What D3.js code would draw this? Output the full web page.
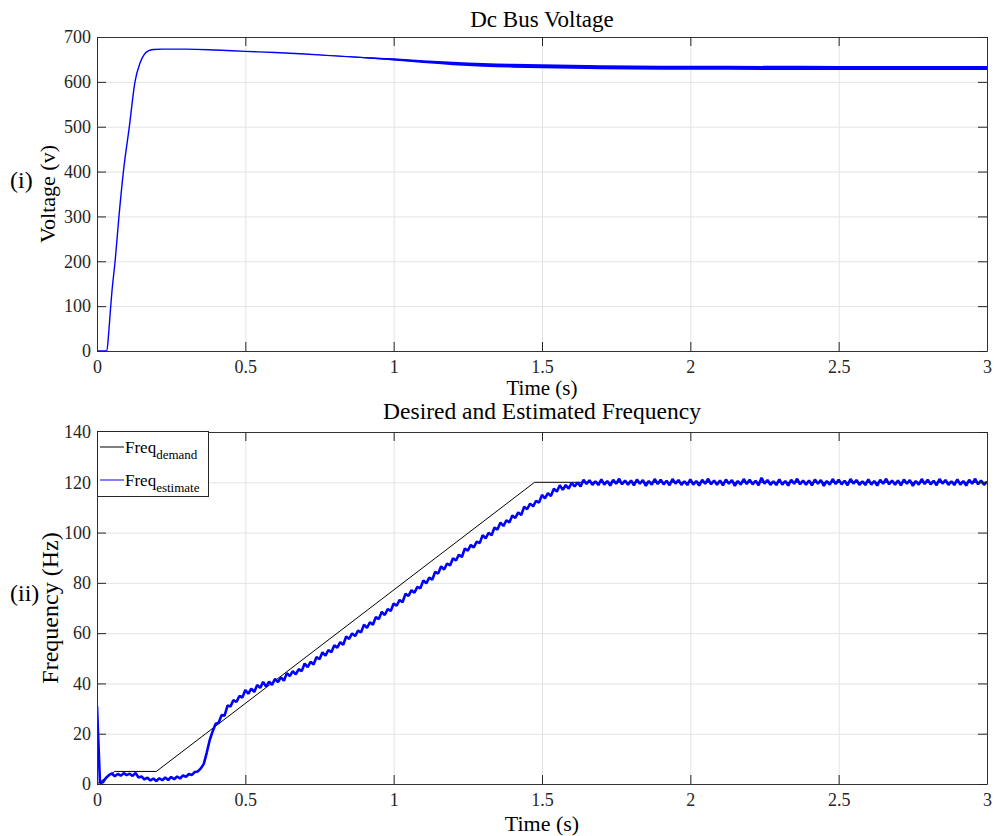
<!DOCTYPE html>
<html>
<head>
<meta charset="utf-8">
<script src="https://cdn.jsdelivr.net/npm/d3@7"></script>
<style>
  body { margin: 0; background: #fff; }
  svg text { font-family: "Liberation Serif", "Times New Roman", serif; }
</style>
</head>
<body>
<svg width="994" height="836"></svg>
<script>
// --- data ---
const timeTicks = [0, 0.5, 1, 1.5, 2, 2.5, 3];
const voltTicks = [0, 100, 200, 300, 400, 500, 600, 700];
const freqTicks = [0, 20, 40, 60, 80, 100, 120, 140];

// dc bus voltage (s, V) and the half-width of its ripple band (V)
const dcTime = [0, 0.033, 0.04, 0.046, 0.05, 0.061, 0.074, 0.089, 0.109, 0.128, 0.145, 0.16, 0.173, 0.19,
                0.22, 0.3, 0.4, 0.5, 0.6, 0.7, 0.8, 0.9, 1.0, 1.1, 1.2, 1.3, 1.4, 1.5, 1.6, 1.8, 2.0, 2.5, 3.0];
const dcVolt = [0, 0, 45, 98, 130, 200, 300, 400, 500, 600, 642, 662, 669, 672,
                673, 673, 671, 668, 665.5, 662, 658, 654, 650, 645, 641, 638, 636, 635, 633.5, 632, 631.5, 631, 631];
const dcRipple = [0, 0, 0, 0, 0, 0, 0, 0, 0, 0, 0, 0, 0, 0,
                  0, 0, 0, 0, 0, 0, 0.5, 1.5, 2.5, 3.2, 3.8, 4.2, 4.4, 4.5, 4.5, 4.5, 4.5, 4.5, 4.5];

// frequency demand (s, Hz)
const demandTime = [0, 0.06, 0.2, 1.475, 3];
const demandFreq = [0, 5, 5, 120, 120];

// frequency estimate, one sample every 0.01 s from 0 to 3 s
const estStep = 0.01;
const estFreq = [
  31, 0.4, 0.7, 2.4, 3.5, 4.2, 3.1, 4.0, 3.3, 4.3,
  3.5, 4.1, 3.2, 4.4, 2.6, 3.0, 1.8, 2.5, 1.4, 2.2,
  1.2, 2.3, 1.5, 2.6, 1.6, 2.8, 1.9, 3.0, 2.2, 3.4,
  2.9, 4.0, 3.6, 4.8, 5.0, 6.2, 8.0, 12.5, 17.5, 21.0,
  24.0, 24.4, 27.4, 27.2, 31.2, 30.8, 33.4, 32.6, 35.0, 34.4,
  37.4, 35.9, 37.9, 36.6, 39.4, 38.2, 40.6, 38.8, 40.7, 39.4,
  41.8, 40.5, 42.4, 41.1, 44.1, 42.9, 44.9, 43.6, 45.7, 44.9,
  47.9, 46.5, 48.6, 47.5, 50.5, 49.6, 52.4, 51.0, 53.3, 52.4,
  55.2, 54.2, 56.4, 55.4, 58.7, 57.7, 59.9, 58.8, 61.0, 60.3,
  63.4, 62.1, 64.3, 63.3, 66.4, 65.6, 68.5, 67.2, 69.6, 68.8,
  71.8, 70.9, 73.2, 72.3, 75.7, 74.8, 77.1, 76.1, 78.4, 77.8,
  81.0, 79.8, 82.1, 81.2, 84.4, 83.7, 86.6, 85.3, 87.7, 86.9,
  89.8, 88.9, 91.2, 90.3, 93.7, 92.8, 95.1, 94.1, 96.4, 95.8,
  99.0, 97.7, 99.9, 98.9, 102.0, 101.2, 104.0, 102.6, 104.9, 104.0,
  106.8, 105.8, 108.0, 107.0, 110.3, 109.3, 111.5, 110.4, 112.6, 111.9,
  115.0, 113.6, 115.7, 114.5, 117.4, 116.3, 118.8, 117.0, 118.9, 117.5,
  119.8, 118.3, 119.9, 118.3, 121.0, 119.3, 120.8, 119.0, 120.4, 118.9,
  121.2, 119.1, 120.5, 118.7, 121.0, 119.4, 121.4, 119.2, 120.7, 119.0,
  120.7, 118.8, 121.1, 119.4, 120.9, 118.6, 120.5, 119.1, 121.3, 119.3,
  121.0, 119.2, 120.6, 118.8, 121.3, 119.5, 120.9, 119.0, 120.4, 118.9,
  121.2, 119.1, 120.5, 118.7, 121.0, 119.4, 121.4, 119.2, 120.7, 119.0,
  120.7, 118.8, 121.1, 119.4, 120.9, 118.6, 120.5, 119.1, 121.3, 119.3,
  121.0, 119.2, 120.6, 118.8, 121.8, 119.5, 120.9, 119.0, 120.4, 118.9,
  121.2, 119.1, 120.5, 118.7, 121.0, 119.4, 121.4, 119.2, 120.7, 119.0,
  120.7, 118.8, 121.1, 119.4, 120.9, 118.6, 120.5, 119.1, 121.3, 119.3,
  121.0, 119.2, 120.6, 118.8, 121.3, 119.5, 120.9, 119.0, 120.4, 118.9,
  121.2, 119.1, 120.5, 118.7, 121.0, 119.4, 121.4, 119.2, 120.7, 119.0,
  120.7, 118.8, 121.1, 119.4, 120.9, 118.6, 120.5, 119.1, 121.3, 119.3,
  121.0, 119.2, 120.6, 118.8, 121.3, 119.5, 120.9, 119.0, 120.4, 118.9,
  121.2, 119.1, 120.5, 118.7, 121.0, 119.4, 121.4, 119.2, 120.7, 119.0,
  120.3
];

// --- layout ---
const left = 97, right = 987;
const top1 = 37, bottom1 = 351;
const top2 = 432, bottom2 = 784;
const tick = 9;
const serif = '"Liberation Serif", "Times New Roman", serif';
const gridColor = '#e3e3e3';

const svg = d3.select('svg');

const x1 = d3.scaleLinear().domain([0, 3]).range([left, right]);
const y1 = d3.scaleLinear().domain([0, 700]).range([bottom1, top1]);
const y2 = d3.scaleLinear().domain([0, 140]).range([bottom2, top2]);

function drawFrame(yScale, yTicks, yTop, yBottom, clipId) {
  const w = right - left, h = yBottom - yTop;

  // grid
  svg.append('g')
     .attr('transform', `translate(0, ${yBottom})`)
     .call(d3.axisBottom(x1).tickValues(timeTicks).tickSize(-h).tickFormat(''))
     .call(g => g.select('.domain').remove())
     .selectAll('line').attr('stroke', gridColor);
  svg.append('g')
     .attr('transform', `translate(${left}, 0)`)
     .call(d3.axisLeft(yScale).tickValues(yTicks).tickSize(-w).tickFormat(''))
     .call(g => g.select('.domain').remove())
     .selectAll('line').attr('stroke', gridColor);

  svg.append('clipPath').attr('id', clipId)
     .append('rect')
       .attr('x', left).attr('y', yTop)
       .attr('width', w).attr('height', h);
}

function drawAxes(yScale, yTicks, yTop, yBottom) {
  const axes = [
    svg.append('g')
       .attr('transform', `translate(0, ${yBottom})`)
       .call(d3.axisBottom(x1).tickValues(timeTicks).tickSize(-tick).tickSizeOuter(0)
               .tickPadding(9).tickFormat(d => String(d))),
    svg.append('g')
       .attr('transform', `translate(${left}, 0)`)
       .call(d3.axisLeft(yScale).tickValues(yTicks).tickSize(-tick).tickSizeOuter(0)
               .tickPadding(6)),
    svg.append('g')
       .attr('transform', `translate(0, ${yTop})`)
       .call(d3.axisTop(x1).tickValues(timeTicks).tickSize(-tick).tickSizeOuter(0).tickFormat('')),
    svg.append('g')
       .attr('transform', `translate(${right}, 0)`)
       .call(d3.axisRight(yScale).tickValues(yTicks).tickSize(-tick).tickSizeOuter(0).tickFormat(''))
  ];

  axes.forEach(a => {
    a.select('.domain').attr('stroke', '#333');
    a.selectAll('.tick line').attr('stroke', '#262626');
    a.selectAll('text')
     .attr('fill', '#262626')
     .style('font-family', serif)
     .style('font-size', '18px');
  });
}

// ---------- top: dc bus voltage ----------
drawFrame(y1, voltTicks, top1, bottom1, 'clip1');

const dcData = dcTime.map((t, i) => ({ t, v: dcVolt[i], r: dcRipple[i] }));

// ripple band
svg.append('path')
   .datum(dcData)
   .attr('clip-path', 'url(#clip1)')
   .attr('d', d3.area()
                .x(d => x1(d.t))
                .y0(d => y1(d.v - d.r))
                .y1(d => y1(d.v + d.r))
                .curve(d3.curveMonotoneX))
   .attr('fill', '#0000ff');

svg.append('path')
   .datum(dcData)
   .attr('clip-path', 'url(#clip1)')
   .attr('d', d3.line().x(d => x1(d.t)).y(d => y1(d.v)).curve(d3.curveMonotoneX))
   .attr('fill', 'none')
   .attr('stroke', '#0000ff')
   .attr('stroke-width', 1.4);

drawAxes(y1, voltTicks, top1, bottom1);

svg.append('text')
   .text('Dc Bus Voltage')
   .attr('x', (left + right) / 2)
   .attr('y', 27)
   .style('text-anchor', 'middle')
   .style('font-size', '23px');

svg.append('text')
   .text('Voltage (v)')
   .attr('transform', `translate(55, ${(top1 + bottom1) / 2}) rotate(-90)`)
   .style('text-anchor', 'middle')
   .style('font-size', '22px');

svg.append('text')
   .text('Time (s)')
   .attr('x', (left + right) / 2)
   .attr('y', 395)
   .style('text-anchor', 'middle')
   .style('font-size', '21px');

svg.append('text')
   .text('(i)')
   .attr('x', 10)
   .attr('y', 188)
   .style('font-size', '24px');

// ---------- bottom: frequency ----------
drawFrame(y2, freqTicks, top2, bottom2, 'clip2');

const estData = estFreq.map((f, i) => ({ t: i * estStep, f }));
const demandData = demandTime.map((t, i) => ({ t, f: demandFreq[i] }));

svg.append('path')
   .datum(demandData)
   .attr('clip-path', 'url(#clip2)')
   .attr('d', d3.line().x(d => x1(d.t)).y(d => y2(d.f)))
   .attr('fill', 'none')
   .attr('stroke', '#000')
   .attr('stroke-width', 1);

svg.append('path')
   .datum(estData)
   .attr('clip-path', 'url(#clip2)')
   .attr('d', d3.line().x(d => x1(d.t)).y(d => y2(d.f)))
   .attr('fill', 'none')
   .attr('stroke', '#0000ff')
   .attr('stroke-width', 2.6)
   .attr('stroke-linejoin', 'bevel');

drawAxes(y2, freqTicks, top2, bottom2);

svg.append('text')
   .text('Desired and Estimated Frequency')
   .attr('x', (left + right) / 2)
   .attr('y', 419)
   .style('text-anchor', 'middle')
   .style('font-size', '23.5px');

svg.append('text')
   .text('Frequency (Hz)')
   .attr('transform', `translate(58, ${(top2 + bottom2) / 2}) rotate(-90)`)
   .style('text-anchor', 'middle')
   .style('font-size', '24px');

svg.append('text')
   .text('Time (s)')
   .attr('x', (left + right) / 2)
   .attr('y', 831)
   .style('text-anchor', 'middle')
   .style('font-size', '22px');

svg.append('text')
   .text('(ii)')
   .attr('x', 10)
   .attr('y', 601)
   .style('font-size', '24px');

// legend
const legend = svg.append('g');
legend.append('rect')
   .attr('x', 97.5).attr('y', 431.5)
   .attr('width', 111).attr('height', 65)
   .attr('fill', '#fff')
   .attr('stroke', '#262626');

const legendItems = [
  { name: 'Freq', sub: 'demand', color: '#000', y: 447 },
  { name: 'Freq', sub: 'estimate', color: '#0000ff', y: 480 }
];

legendItems.forEach(d => {
  legend.append('line')
     .attr('x1', 100).attr('x2', 124)
     .attr('y1', d.y).attr('y2', d.y)
     .attr('stroke', d.color);
  const t = legend.append('text')
     .attr('x', 125)
     .attr('y', d.y + 6)
     .style('font-size', '17px');
  t.append('tspan').text(d.name);
  t.append('tspan')
     .text(d.sub)
     .attr('dy', 6)
     .style('font-size', '13px');
});
</script>
</body>
</html>
